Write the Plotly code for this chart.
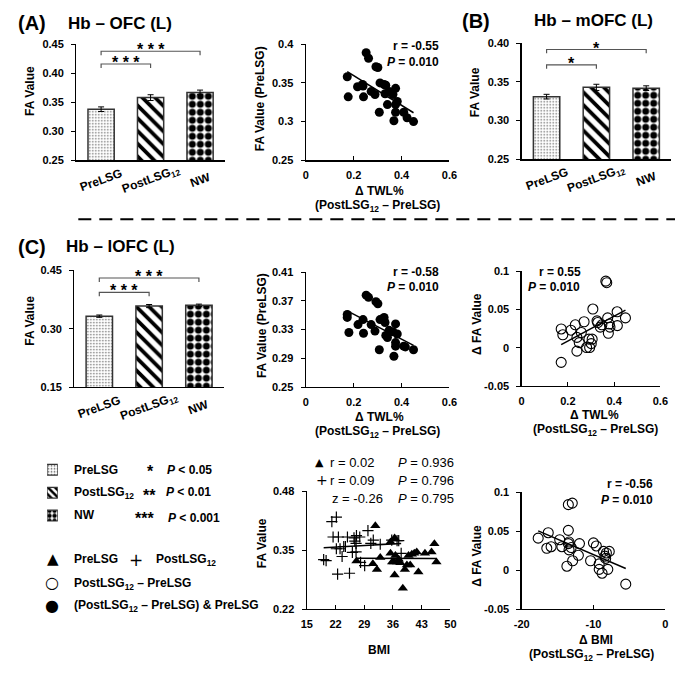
import numpy as np
import plotly.graph_objects as go

W, H = 683, 674

# ---------------- data ----------------
groups = ["PreLSG", "PostLSG<sub>12</sub>", "NW"]
ofc_mean = [0.338, 0.358, 0.367]
ofc_err = [0.004, 0.005, 0.004]
mofc_mean = [0.331, 0.343, 0.342]
mofc_err = [0.003, 0.004, 0.003]
lofc_mean = [0.332, 0.358, 0.360]
lofc_err = [0.003, 0.004, 0.003]

twl_ofc = [0.173, 0.177, 0.216, 0.237, 0.239, 0.241, 0.252, 0.262, 0.273, 0.289, 0.293, 0.301, 0.307, 0.310,
           0.327, 0.331, 0.334, 0.341, 0.348, 0.364, 0.368, 0.375, 0.375, 0.375, 0.382, 0.409, 0.423, 0.450]
fa_ofc = [0.358, 0.332, 0.345, 0.348, 0.346, 0.332, 0.389, 0.382, 0.339, 0.335, 0.371, 0.370, 0.312, 0.350,
          0.348, 0.336, 0.347, 0.322, 0.339, 0.335, 0.301, 0.343, 0.322, 0.312, 0.326, 0.312, 0.305, 0.300]

twl_lofc = [0.173, 0.173, 0.180, 0.218, 0.239, 0.241, 0.252, 0.262, 0.273, 0.289, 0.293, 0.301, 0.307, 0.310,
            0.327, 0.331, 0.334, 0.341, 0.348, 0.364, 0.368, 0.375, 0.375, 0.375, 0.382, 0.409, 0.416, 0.450]
fa_lofc = [0.351, 0.347, 0.326, 0.337, 0.344, 0.325, 0.378, 0.375, 0.337, 0.328, 0.369, 0.366, 0.302, 0.344,
           0.347, 0.340, 0.322, 0.319, 0.329, 0.327, 0.293, 0.338, 0.312, 0.307, 0.324, 0.307, 0.306, 0.302]

twl_d = [0.171, 0.171, 0.178, 0.213, 0.232, 0.239, 0.239, 0.249, 0.258, 0.270, 0.281, 0.291, 0.294, 0.301, 0.305,
         0.308, 0.326, 0.329, 0.340, 0.347, 0.364, 0.368, 0.372, 0.375, 0.379, 0.382, 0.413, 0.414, 0.449]
dfa_twl = [-0.019, 0.0246, 0.017, 0.023, 0.030, -0.0044, 0.0136, 0.0068, 0.020, 0.034, 0.0004, 0.0113, 0.0004,
           0.0054, 0.0113, 0.0506, 0.0352, 0.033, 0.027, 0.030, 0.087, 0.085, 0.039, 0.019, 0.031, 0.027, 0.047,
           0.029, 0.039]

bmi_pre = [31.7, 36.4, 35.4, 27.1, 31.1, 32.1, 32.9, 35.4, 35.8, 36.4, 36.6, 37.0, 37.4, 37.8, 38.4, 38.9, 39.4,
           39.8, 40.2, 40.6, 41.2, 41.8, 42.2, 43.8, 45.4, 46.1, 46.6, 36.2]
fa_bmi_pre = [0.404, 0.377, 0.368, 0.326, 0.320, 0.307, 0.334, 0.343, 0.324, 0.295, 0.338, 0.324, 0.330, 0.322,
              0.266, 0.307, 0.317, 0.338, 0.317, 0.341, 0.343, 0.346, 0.302, 0.343, 0.346, 0.364, 0.324, 0.324]
bmi_post = [19.1, 19.7, 21.1, 22.2, 21.4, 22.7, 22.2, 23.1, 22.5, 24.0, 23.6, 24.4, 24.9, 25.4, 26.1, 26.5, 26.7,
            27.0, 27.1, 27.9, 28.1, 29.1, 29.9, 31.2, 30.6, 32.9, 35.7, 37.0, 37.4, 38.0, 27.0]
fa_bmi_post = [0.329, 0.327, 0.413, 0.423, 0.379, 0.379, 0.353, 0.353, 0.297, 0.358, 0.336, 0.358, 0.379, 0.299,
               0.345, 0.377, 0.370, 0.365, 0.382, 0.379, 0.323, 0.316, 0.393, 0.372, 0.365, 0.363, 0.372, 0.371,
               0.371, 0.343, 0.346]

dbmi = [-17.7, -16.5, -16.3, -15.9, -14.7, -14.4, -13.5, -12.95, -13.7, -13.5, -13.5, -13.4, -13.4, -13.1, -12.9,
        -12.1, -11.95, -10.4, -10.0, -9.6, -9.2, -9.2, -8.8, -8.6, -8.4, -8.3, -8.2, -8.0, -7.8, -5.5]
dfa_bmi = [0.041, 0.028, 0.048, 0.030, 0.039, 0.030, 0.084, 0.086, 0.005, 0.051, 0.034, 0.026, 0.036, 0.029, 0.012,
           0.019, 0.034, 0.012, 0.035, 0.031, 0.008, 0.001, -0.004, 0.024, 0.018, 0.015, 0.022, 0.001, 0.024, -0.018]

# tick labels
ticks_bar_a = ["0.25", "0.30", "0.35", "0.40", "0.45"]
ticks_bar_b = ["0.25", "0.30", "0.35", "0.40"]
ticks_bar_c = ["0.15", "0.30", "0.45"]
ticks_twl = ["0", "0.2", "0.4", "0.6"]
ticks_fa_a = ["0.25", "0.3", "0.35", "0.4"]
ticks_fa_c = ["0.25", "0.29", "0.33", "0.37", "0.41"]
ticks_dfa = ["-0.05", "0", "0.05", "0.1"]
ticks_bmi = ["15", "22", "29", "36", "43", "50"]
ticks_fa_bmi = ["0.22", "0.35", "0.48"]
ticks_dbmi = ["-20", "-10", "0"]

# ---------------- helpers ----------------
FONT = "Liberation Sans, Arial, sans-serif"
px = lambda x: x / W
py = lambda y: 1 - y / H

fig = go.Figure()
layout = {}
annotations = []
shapes = []


def ax_name(n, kind):
    return kind + ("axis" if n == 1 else f"axis{n}")


def ref(n, kind):
    return kind + ("" if n == 1 else str(n))


def make_axes(n, xpx, ypx, xrange, yrange, yticks, xticks=None, categorical=False):
    tf = dict(family=FONT, size=11, color="black", weight="bold")
    xa = dict(domain=[px(xpx[0]), px(xpx[1])], anchor=ref(n, "y"), showline=True, linecolor="black",
              linewidth=1.3, showgrid=False, zeroline=False, tickfont=tf, fixedrange=True)
    if categorical:
        xa.update(type="category", range=[-0.5, 2.5], showticklabels=False, ticks="")
    else:
        xa.update(range=xrange, tickmode="array", tickvals=[float(t) for t in xticks], ticktext=xticks,
                  ticks="inside", ticklen=4, tickwidth=1, tickcolor="black", ticklabelstandoff=4)
    ya = dict(domain=[py(ypx[1]), py(ypx[0])], anchor=ref(n, "x"), showline=True, linecolor="black",
              linewidth=1.3, showgrid=False, zeroline=False, range=yrange, tickmode="array",
              tickvals=[float(t) for t in yticks], ticktext=yticks, ticks="outside", ticklen=4, tickwidth=1,
              tickcolor="black", tickfont=tf, ticklabelstandoff=5, fixedrange=True)
    layout[ax_name(n, "x")] = xa
    layout[ax_name(n, "y")] = ya


def text(x, y, s, size=12, bold=True, xanchor="center", angle=0, family=FONT):
    annotations.append(dict(x=px(x), y=py(y), xref="paper", yref="paper", text=s, showarrow=False,
                            xanchor=xanchor, yanchor="middle", textangle=angle,
                            font=dict(family=family, size=size, color="black",
                                      weight="bold" if bold else "normal")))


PAT_SHAPE = [".", "\\", "."]
PAT_SIZE = [3, 9, 8]
PAT_SOL = [0.18, 0.42, 0.6]
PAT_FG = ["#555", "black", "black"]


def bar_panel(n, means, errs, axis_bottom_px):
    fig.add_trace(go.Bar(
        x=groups, y=means, xaxis=ref(n, "x"), yaxis=ref(n, "y"), width=0.53,
        marker=dict(color="white", line=dict(color="#333", width=1.5),
                    pattern=dict(shape=PAT_SHAPE, size=PAT_SIZE, solidity=PAT_SOL, fgcolor=PAT_FG,
                                 bgcolor="white", fillmode="replace")),
        error_y=dict(type="data", array=errs, color="black", thickness=1, width=3),
    ))
    for g in groups:
        annotations.append(dict(x=g, y=py(axis_bottom_px + 20), xref=ref(n, "x"), yref="paper", text=g,
                                showarrow=False, textangle=-20, xanchor="center", yanchor="middle",
                                font=dict(family=FONT, size=12, color="black", weight="bold")))


def bracket(n, i0, i1, y, tick, stars, star_dy):
    xr, yr = ref(n, "x"), ref(n, "y")
    shapes.append(dict(type="path", xref=xr, yref=yr,
                       path=f"M {i0},{y - tick} L {i0},{y} L {i1},{y} L {i1},{y - tick}",
                       line=dict(color="#555", width=1.2)))
    annotations.append(dict(x=(i0 + i1) / 2, y=y + star_dy, xref=xr, yref=yr, text=stars, showarrow=False,
                            xanchor="center", yanchor="middle",
                            font=dict(family=FONT, size=16, color="black", weight="bold")))


def reg_line(n, xs, ys):
    xs = np.asarray(xs, float)
    ys = np.asarray(ys, float)
    k, b = np.polyfit(xs, ys, 1)
    xl = np.array([xs.min(), xs.max()])
    fig.add_trace(go.Scatter(x=xl, y=k * xl + b, mode="lines", line=dict(color="black", width=1.5),
                             xaxis=ref(n, "x"), yaxis=ref(n, "y"), hoverinfo="skip"))


def scatter(n, xs, ys, symbol, size=9, lw=0):
    m = dict(symbol=symbol, size=size, color="black")
    if lw:
        m["line"] = dict(color="black", width=lw)
    fig.add_trace(go.Scatter(x=xs, y=ys, mode="markers", marker=m, xaxis=ref(n, "x"), yaxis=ref(n, "y")))


# ---------------- panel A bar ----------------
make_axes(1, (70, 222), (39, 157), None, [0.25, 0.45], ticks_bar_a, categorical=True)
bar_panel(1, ofc_mean, ofc_err, 157)
bracket(1, 0, 2, 0.438, 0.007, "* * *", 0.003)
bracket(1, 0, 1, 0.416, 0.007, "* * *", 0.003)

# ---------------- panel A scatter ----------------
make_axes(2, (305, 452), (39, 157), [0, 0.6], [0.25, 0.4], ticks_fa_a, ticks_twl)
scatter(2, twl_ofc, fa_ofc, "circle", 9)
reg_line(2, twl_ofc, fa_ofc)

# ---------------- panel B bar ----------------
make_axes(3, (526, 679), (38, 156), None, [0.25, 0.40], ticks_bar_b, categorical=True)
bar_panel(3, mofc_mean, mofc_err, 156)
bracket(3, 0, 2, 0.392, 0.005, "*", 0.0015)
bracket(3, 0, 1, 0.372, 0.005, "*", 0.0015)

# ---------------- panel C bar ----------------
make_axes(4, (68, 221), (269, 388), None, [0.15, 0.45], ticks_bar_c, categorical=True)
bar_panel(4, lofc_mean, lofc_err, 388)
bracket(4, 0, 2, 0.430, 0.010, "* * *", 0.004)
bracket(4, 0, 1, 0.393, 0.010, "* * *", 0.004)

# ---------------- panel C middle scatter ----------------
make_axes(5, (305, 452), (271, 388), [0, 0.6], [0.25, 0.41], ticks_fa_c, ticks_twl)
scatter(5, twl_lofc, fa_lofc, "circle", 9)
reg_line(5, twl_lofc, fa_lofc)

# ---------------- panel C right scatter ----------------
make_axes(6, (526, 668), (270, 387), [0, 0.6], [-0.05, 0.1], ticks_dfa, ticks_twl)
scatter(6, twl_d, dfa_twl, "circle-open", 10, 1.1)
reg_line(6, twl_d, dfa_twl)

# ---------------- bottom middle scatter ----------------
make_axes(7, (306, 453), (494, 614), [15, 50], [0.22, 0.48], ticks_fa_bmi, ticks_bmi)
scatter(7, bmi_post, fa_bmi_post, "cross-thin", 8, 1.2)
scatter(7, bmi_pre, fa_bmi_pre, "triangle-up", 9)
reg_line(7, bmi_post, fa_bmi_post)
reg_line(7, bmi_pre, fa_bmi_pre)

# ---------------- bottom right scatter ----------------
make_axes(8, (526, 673), (495, 614), [-20, 0], [-0.05, 0.1], ticks_dfa, ticks_dbmi)
scatter(8, dbmi, dfa_bmi, "circle-open", 10, 1.1)
reg_line(8, dbmi, dfa_bmi)

# ---------------- legend icons (small patterned squares) ----------------
layout["xaxis9"] = dict(domain=[px(40), px(51)], anchor="y9", range=[0, 1], visible=False, fixedrange=True)
layout["yaxis9"] = dict(domain=[py(530.5), py(460.5)], anchor="x9", range=[-0.5, 2.5], visible=False,
                        fixedrange=True)
fig.add_trace(go.Bar(
    y=[2, 1, 0], x=[1, 1, 1], orientation="h", width=0.47, xaxis="x9", yaxis="y9",
    marker=dict(color="white", line=dict(color="#333", width=1.2),
                pattern=dict(shape=PAT_SHAPE, size=[3, 5, 5], solidity=[0.25, 0.5, 0.6], fgcolor=PAT_FG,
                             bgcolor="white", fillmode="replace")),
))

# ---------------- texts ----------------
text(8, 17, "(A)", 20, xanchor="left")
text(115, 18, "Hb – OFC (L)", 17)
text(463, 15, "(B)", 20, xanchor="left")
text(600, 15, "Hb – mOFC (L)", 17)
text(8, 245, "(C)", 20, xanchor="left")
text(115, 245, "Hb – lOFC (L)", 17)

# y titles
text(23, 86, "FA Value", 12, angle=-90)
text(258, 94, "FA Value (PreLSG)", 12, angle=-90)
text(479, 88, "FA Value", 12, angle=-90)
text(23, 320, "FA Value", 12, angle=-90)
text(260, 325, "FA Value (PreLSG)", 12, angle=-90)
text(480, 324, "Δ FA Value", 12, angle=-90)
text(260, 547, "FA Value", 12, angle=-90)
text(480, 560, "Δ FA Value", 12, angle=-90)

# x titles
sub = "(PostLSG<sub>12</sub> – PreLSG)"
text(380, 188, "Δ TWL%", 12)
text(378, 204, sub, 12)
text(380, 418, "Δ TWL%", 12)
text(378, 434, sub, 12)
text(601, 416, "Δ TWL%", 12)
text(602, 432, sub, 12)
text(380, 656, "BMI", 12)
text(602, 645, "Δ BMI", 12)
text(598, 661, sub, 12)

# correlation stats
text(443, 41, "r = -0.55", 12, xanchor="right")
text(443, 57, "<i>P</i> = 0.010", 12, xanchor="right")
text(443, 271, "r = -0.58", 12, xanchor="right")
text(443, 286, "<i>P</i> = 0.010", 12, xanchor="right")
text(589, 271, "r = 0.55", 12, xanchor="right")
text(588, 286, "<i>P</i> = 0.010", 12, xanchor="right")
text(663, 487, "r = -0.56", 12, xanchor="right")
text(663, 503, "<i>P</i> = 0.010", 12, xanchor="right")

DJ = "DejaVu Sans"
text(319, 465, "▲", 11, family=DJ)
text(328, 465, "r = 0.02", 13, bold=False, xanchor="left")
text(397, 465, "<i>P</i> = 0.936", 13, bold=False, xanchor="left")
text(322, 483, "+", 14, bold=False, family=DJ)
text(328, 483, "r = 0.09", 13, bold=False, xanchor="left")
text(397, 483, "<i>P</i> = 0.796", 13, bold=False, xanchor="left")
text(330, 501, "z = -0.26", 13, bold=False, xanchor="left")
text(397, 501, "<i>P</i> = 0.795", 13, bold=False, xanchor="left")

# legend texts
text(66, 472, "PreLSG", 12, xanchor="left")
text(146, 474, "*", 16)
text(161, 472, "<i>P</i> < 0.05", 12, xanchor="left")
text(66, 496, "PostLSG<sub>12</sub>", 12, xanchor="left")
text(145, 498, "**", 16)
text(160, 495, "<i>P</i> < 0.01", 12, xanchor="left")
text(66, 518, "NW", 12, xanchor="left")
text(140, 522, "***", 16)
text(162, 521, "<i>P</i> < 0.001", 12, xanchor="left")
text(46, 563, "▲", 15, family=DJ)
text(66, 563, "PreLSG", 12, xanchor="left")
text(131, 564, "+", 17, bold=False, family=DJ)
text(149, 564, "PostLSG<sub>12</sub>", 12, xanchor="left")
text(45, 587, "○", 16, family=DJ)
text(66, 588, "PostLSG<sub>12</sub> – PreLSG", 12, xanchor="left")
text(45, 610, "●", 16, family=DJ)
text(66, 611, "(PostLSG<sub>12</sub> – PreLSG) & PreLSG", 12, xanchor="left")

# dashed separator
shapes.append(dict(type="line", xref="paper", yref="paper", x0=px(72), x1=px(683), y0=py(217), y1=py(217),
                   line=dict(color="black", width=2, dash="13px,8px")))

fig.update_layout(
    width=W, height=H, margin=dict(l=0, r=0, t=0, b=0), paper_bgcolor="white", plot_bgcolor="white",
    showlegend=False, annotations=annotations, shapes=shapes, bargap=0.47,
    font=dict(family=FONT, color="black"), **layout,
)
fig.write_html("out.html", config={"displayModeBar": False, "staticPlot": True},
               post_script="document.body.style.margin='0';document.body.style.overflow='hidden';")
